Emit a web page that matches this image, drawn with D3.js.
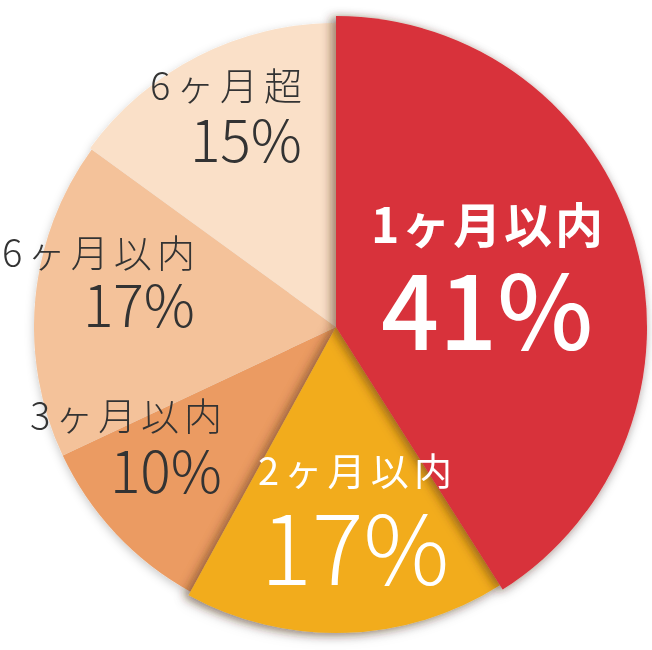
<!DOCTYPE html>
<html>
<head>
<meta charset="utf-8">
<script src="https://cdn.jsdelivr.net/npm/d3@7"></script>
<style>
  html, body { margin: 0; padding: 0; background: #fff; }
  svg { display: block; }
  text { font-family: "Noto Sans CJK JP", "Noto Sans", sans-serif; }
</style>
</head>
<body>
<div id="chart"></div>
<script>
// data
const categories = ["1ヶ月以内", "2ヶ月以内", "3ヶ月以内", "6ヶ月以内", "6ヶ月超"];
const values = [41, 17, 10, 17, 15];
const colors = ["#d8313a", "#f2ac1b", "#eb9b62", "#f4c29a", "#fae0c8"];

// svg size and pie center
const width = 652;
const height = 650;
const cx = 336;
const cy = 327;

// each slice sits at a slightly different radius (red pops out)
const outerR = { "1ヶ月以内": 311, "2ヶ月以内": 306, "3ヶ月以内": 302, "6ヶ月以内": 302, "6ヶ月超": 304 };

// label placement, relative to the pie center
const labelLayout = {
    "1ヶ月以内": { x: 151, y1: -84, y2: 23, anchor: "middle", fill: "#fff", w: 232, s1: 48, s2: 102, wt1: 700, wt2: 500 },
    "2ヶ月以内": { x: 19, y1: 158, y2: 258, anchor: "middle", fill: "#fff", w: 194, s1: 38, s2: 96, wt1: 400, wt2: 300 },
    "3ヶ月以内": { x: -114, y1: 103, y2: 166, anchor: "end", fill: "#333", w: 192, s1: 38, s2: 57, wt1: 300, wt2: 300 },
    "6ヶ月以内": { x: -141, y1: -60, y2: 0, anchor: "end", fill: "#333", w: 193, s1: 38, s2: 57, wt1: 300, wt2: 300 },
    "6ヶ月超": { x: -34, y1: -227, y2: -165, anchor: "end", fill: "#333", w: 152, s1: 38, s2: 57, wt1: 300, wt2: 300 }
};

const table = categories.map((c, i) => ({ name: c, value: values[i], color: colors[i] }));

const pie = d3.pie().sort(null).value(d => d.value);
const arcs = pie(table);

const arc = d3.arc().innerRadius(0).outerRadius(d => outerR[d.data.name]);

const svg = d3.select("#chart")
    .append("svg")
    .attr("width", width)
    .attr("height", height);

// shadows
const defs = svg.append("defs");
defs.append("filter")
    .attr("id", "pieShadow")
    .attr("x", "-20%").attr("y", "-20%").attr("width", "140%").attr("height", "140%")
    .append("feDropShadow")
    .attr("dx", 0).attr("dy", 3)
    .attr("stdDeviation", 5)
    .attr("flood-color", "#000")
    .attr("flood-opacity", 0.22);

defs.append("filter")
    .attr("id", "sliceShadow")
    .attr("x", "-20%").attr("y", "-20%").attr("width", "140%").attr("height", "140%")
    .append("feDropShadow")
    .attr("dx", -5).attr("dy", 1)
    .attr("stdDeviation", 5)
    .attr("flood-color", "#4a2a10")
    .attr("flood-opacity", 0.5);

const g = svg.append("g")
    .attr("transform", `translate(${cx},${cy})`)
    .attr("filter", "url(#pieShadow)");

// light slices first, then yellow and red on top with their own shadow
const drawOrder = [2, 3, 4, 1, 0];
drawOrder.forEach(i => {
    const d = arcs[i];
    g.append("path")
        .attr("d", arc(d))
        .attr("fill", d.data.color)
        .attr("filter", i <= 1 ? "url(#sliceShadow)" : null);
});

// labels: one text per slice, name and percent as two lines
const lg = svg.append("g").attr("transform", `translate(${cx},${cy})`);
arcs.forEach(d => {
    const L = labelLayout[d.data.name];
    const t = lg.append("text")
        .attr("text-anchor", L.anchor)
        .attr("fill", L.fill);
    t.append("tspan")
        .attr("x", L.x)
        .attr("y", L.y1)
        .attr("font-size", L.s1)
        .attr("font-weight", L.wt1)
        .attr("textLength", L.w)
        .attr("lengthAdjust", "spacing")
        .text(d.data.name);
    t.append("tspan")
        .attr("x", L.x)
        .attr("y", L.y2)
        .attr("font-size", L.s2)
        .attr("font-weight", L.wt2)
        .text(d.data.value + "%");
});
</script>
</body>
</html>
